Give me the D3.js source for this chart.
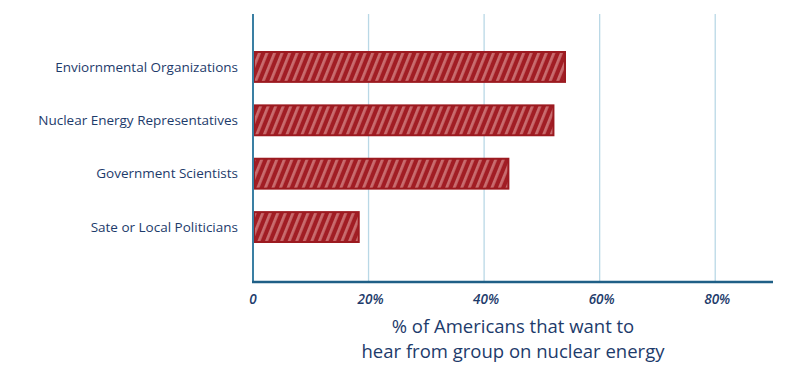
<!DOCTYPE html>
<html><head><meta charset="utf-8">
<script src="https://cdn.jsdelivr.net/npm/d3@7"></script>
<style>body{margin:0;background:#fff;}svg{display:block;}</style>
</head><body>
<script>
const categories = ["Enviornmental Organizations","Nuclear Energy Representatives","Government Scientists","Sate or Local Politicians"];
const values = [54, 52, 44.2, 18.3];
const tickValues = [0, 20, 40, 60, 80];
const tickLabels = ["0", "20%", "40%", "60%", "80%"];
const titleLines = ["% of Americans that want to", "hear from group on nuclear energy"];

const W = 800, H = 379;
const svg = d3.select("body").append("svg").attr("width", W).attr("height", H);
const font = "'Open Sans', Lato, sans-serif";
const navy = "#1d3b6b";

const x = d3.scaleLinear().domain([0, 90]).range([253, 773]);
const y = d3.scaleBand().domain(categories).range([52, 242]).paddingInner(0.44).paddingOuter(0);

const defs = svg.append("defs");
const pat = defs.append("pattern").attr("id","hatch").attr("patternUnits","userSpaceOnUse")
  .attr("width",7).attr("height",7).attr("patternTransform","rotate(22)");
pat.append("rect").attr("width",7).attr("height",7).attr("fill","#a11d24");
pat.append("rect").attr("x",0).attr("width",2.8).attr("height",7).attr("fill","#c96c6f");

// gridlines
svg.append("g").selectAll("line").data(tickValues.slice(1)).join("line")
  .attr("x1", d=>x(d)).attr("x2", d=>x(d)).attr("y1", 14).attr("y2", 282)
  .attr("stroke","#b9d8e6").attr("stroke-width",1.3);

// bars
svg.append("g").selectAll("rect").data(values).join("rect")
  .attr("x", x(0)+1).attr("y",(d,i)=>y(categories[i]))
  .attr("width", d=>x(d)-x(0)-1).attr("height", y.bandwidth())
  .attr("fill","url(#hatch)").attr("stroke","#9c1a20").attr("stroke-width",2);

// axes
svg.append("line").attr("x1",x(0)).attr("x2",x(0)).attr("y1",14).attr("y2",283)
  .attr("stroke","#3a7fa3").attr("stroke-width",2);
svg.append("line").attr("x1",x(0)-1).attr("x2",773).attr("y1",282).attr("y2",282)
  .attr("stroke","#1f5f86").attr("stroke-width",2.5);

// category labels
svg.append("g").selectAll("text").data(categories).join("text")
  .attr("x",238).attr("y",d=>y(d)+y.bandwidth()/2).attr("dy","0.35em")
  .attr("text-anchor","end").attr("font-family",font).attr("font-size",13.5)
  .attr("fill",navy).text(d=>d);

// tick labels
svg.append("g").selectAll("text").data(tickValues).join("text")
  .attr("x",d=>x(d)+(d===0?0:2)).attr("y",299).attr("dy","0.35em")
  .attr("text-anchor","middle").attr("font-family",font).attr("font-style","italic")
  .attr("font-weight",600).attr("font-size",13.5).attr("fill",navy).text((d,i)=>tickLabels[i]);

// title
svg.append("g").selectAll("text").data(titleLines).join("text")
  .attr("x",513).attr("y",(d,i)=>327+i*25).attr("dy","0.35em")
  .attr("text-anchor","middle").attr("font-family",font).attr("font-size",18.5)
  .attr("fill",navy).text(d=>d);
</script>
</body></html>
